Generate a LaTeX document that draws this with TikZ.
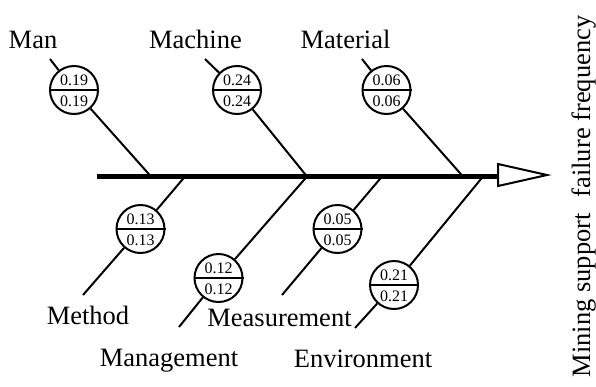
\documentclass[tikz,border=0pt]{standalone}
\usepackage{fontspec}
\setmainfont{Liberation Serif}
\begin{document}
\begin{tikzpicture}[x=1pt,y=-1pt,
  bone/.style={line width=2pt},
  spine/.style={line width=4.5pt},
  valc/.style={circle,draw,line width=2pt,minimum size=48pt,inner sep=0pt},
  numtxt/.style={inner sep=0pt,font=\fontsize{16}{18}\selectfont},
  lbl/.style={inner sep=0pt,anchor=base,font=\fontsize{26.5}{30}\selectfont}]
\useasboundingbox (0,0) rectangle (596,386);
\newcommand\fishval[4]{%
  \node[valc] (#1) at (#2,#3) {};
  \draw[line width=2pt] (#1.west) -- (#1.east);
  \node[numtxt] (#1-t) at ([yshift=9.5pt]#1.center) {#4};
  \node[numtxt] (#1-b) at ([yshift=-11.5pt]#1.center) {#4};
}
% spine and head
\coordinate (sL) at (97,176.5);
\coordinate (sR) at (498,176.5);
\draw[spine] (sL) -- (sR);
\draw[line width=2pt,line join=miter] (498,164) -- (547,175) -- (498,186) -- cycle;
% circles
\fishval{cMan}{74}{90}{0.19}
\fishval{cMach}{237}{90}{0.24}
\fishval{cMat}{386.5}{90}{0.06}
\fishval{cMeth}{140.5}{229}{0.13}
\fishval{cMan2}{218.5}{278}{0.12}
\fishval{cMeas}{337.5}{229}{0.05}
\fishval{cEnv}{394}{285}{0.21}
% bone ends
\coordinate (tMan) at (50,59);   \coordinate (jMan) at (151,176.5);
\coordinate (tMach) at (205,59); \coordinate (jMach) at (307,176.5);
\coordinate (tMat) at (362,59);  \coordinate (jMat) at (463,176.5);
\coordinate (jMeth) at (185,176.5);  \coordinate (eMeth) at (83,295);
\coordinate (jMan2) at (307,176.5);  \coordinate (eMan2) at (179,327);
\coordinate (jMeas) at (382,176.5);  \coordinate (eMeas) at (282,295);
\coordinate (jEnv) at (483,176.5);   \coordinate (eEnv) at (355,328);
% bones
\draw[bone] (tMan) -- (cMan);  \draw[bone] (cMan) -- (jMan);
\draw[bone] (tMach) -- (cMach); \draw[bone] (cMach) -- (jMach);
\draw[bone] (tMat) -- (cMat);  \draw[bone] (cMat) -- (jMat);
\draw[bone] (jMeth) -- (cMeth); \draw[bone] (cMeth) -- (eMeth);
\draw[bone] (jMan2) -- (cMan2); \draw[bone] (cMan2) -- (eMan2);
\draw[bone] (jMeas) -- (cMeas); \draw[bone] (cMeas) -- (eMeas);
\draw[bone] (jEnv) -- (cEnv);  \draw[bone] (cEnv) -- (eEnv);
% labels
\node[lbl] (lMan) at (33,48) {Man};
\node[lbl] (lMach) at (195.5,48) {Machine};
\node[lbl] (lMat) at (345.5,48) {Material};
\node[lbl] (lMeth) at (88,324) {Method};
\node[lbl] (lMan2) at (169,366) {Management};
\node[lbl] (lMeas) at (279.5,326) {Measurement};
\node[lbl] (lEnv) at (363,367) {Environment};
\node[lbl,rotate=90] (lEff) at (590,196.5) {Mining support\hspace{0.6em}failure frequency};
\end{tikzpicture}
\end{document}
